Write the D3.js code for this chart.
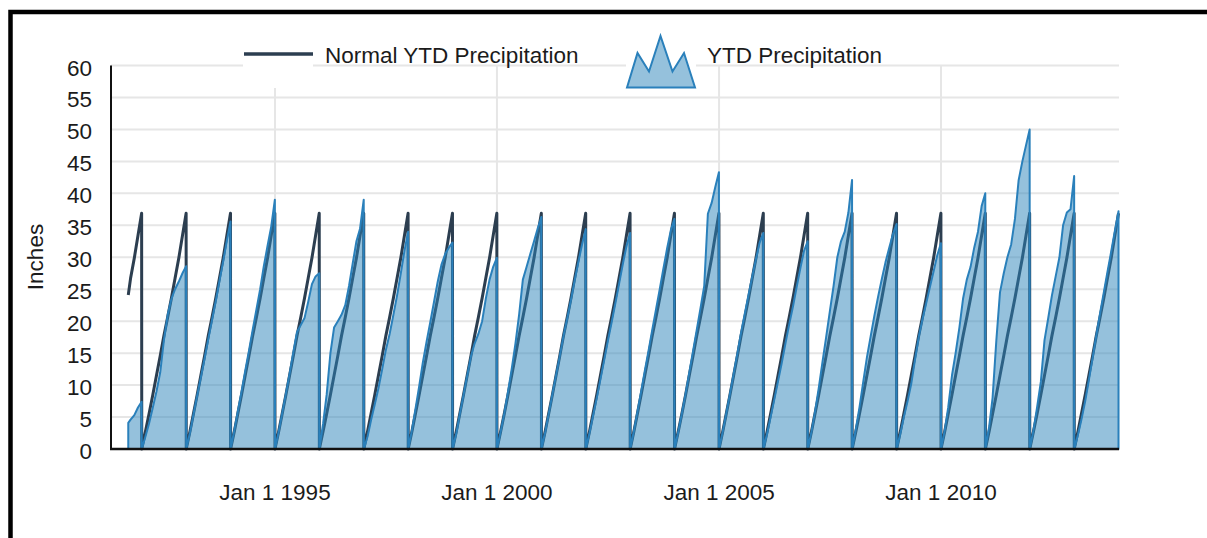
<!DOCTYPE html>
<html>
<head>
<meta charset="utf-8">
<script src="https://cdn.jsdelivr.net/npm/d3@7"></script>
<style>
  html, body { margin: 0; padding: 0; background: #fff; }
  svg { display: block; }
  text { font-family: "Liberation Sans", Arial, Helvetica, sans-serif; fill: #1b1b1b; }
</style>
</head>
<body>
<svg id="chart" width="1207" height="538"></svg>
<script>
// ---- data -------------------------------------------------------------
// Sample dates within each year (month starts, then year end)
const sampleDays = ["01-01", "02-01", "03-01", "04-01", "05-01", "06-01",
                    "07-01", "08-01", "09-01", "10-01", "11-01", "12-01", "12-31"];

// Normal year-to-date precipitation (inches) on those dates
const normalYTD = [0, 2.8, 5.5, 8.5, 11.5, 14.6, 17.7, 20.6, 23.6, 26.7, 29.9, 33.4, 36.9];

// Record begins part way through 1991
const firstDates  = ["1991-09-12", "1991-10-01", "1991-11-01", "1991-12-01", "1991-12-31"];
const firstNormal = [24.1, 26.7, 29.9, 33.4, 36.9];
const firstYTD    = [4.1, 4.6, 5.3, 6.5, 7.4];

// Full calendar years
const years = [1992, 1993, 1994, 1995, 1996, 1997, 1998, 1999, 2000, 2001, 2002,
               2003, 2004, 2005, 2006, 2007, 2008, 2009, 2010, 2011, 2012, 2013];

// Observed year-to-date precipitation (inches), one row per year
const ytdByYear = [
  [0, 2.0, 4.0, 6.5, 9.0, 12.0, 17.0, 21.0, 23.5, 25.0, 26.2, 27.5, 28.6],   // 1992
  [0, 2.6, 5.4, 8.4, 11.2, 14.2, 17.2, 20.2, 23.2, 26.3, 29.4, 32.6, 35.6],  // 1993
  [0, 3.0, 5.9, 9.0, 12.2, 15.4, 18.6, 21.8, 25.0, 28.6, 31.8, 34.8, 39.0],  // 1994
  [0, 2.8, 5.6, 8.7, 11.8, 15.2, 18.3, 19.4, 20.5, 23.0, 25.8, 27.0, 27.5],  // 1995
  [0, 4.0, 8.5, 15.0, 19.0, 20.0, 21.0, 22.5, 25.5, 29.0, 32.5, 34.5, 39.0], // 1996
  [0, 2.0, 4.5, 7.0, 9.5, 12.5, 15.5, 18.0, 21.0, 24.0, 27.5, 31.0, 34.0],   // 1997
  [0, 3.0, 6.2, 9.8, 13.5, 16.8, 19.8, 23.0, 26.2, 28.8, 30.5, 31.5, 32.3],  // 1998
  [0, 2.5, 5.5, 8.5, 11.5, 14.5, 16.5, 18.0, 20.0, 23.5, 26.5, 28.5, 29.9],  // 1999
  [0, 2.8, 5.6, 9.0, 12.5, 16.5, 21.0, 26.5, 28.5, 30.5, 32.5, 34.5, 36.3],  // 2000
  [0, 2.7, 5.5, 8.6, 11.6, 14.6, 17.7, 20.5, 23.4, 26.4, 29.3, 32.0, 34.4],  // 2001
  [0, 2.6, 5.2, 8.0, 10.9, 13.9, 16.9, 19.8, 22.8, 25.8, 28.9, 31.7, 33.8],  // 2002
  [0, 2.9, 5.8, 9.0, 12.2, 15.4, 18.6, 21.8, 25.0, 28.2, 31.4, 34.2, 36.0],  // 2003
  [0, 2.8, 5.6, 8.7, 12.0, 15.3, 18.6, 22.0, 25.5, 36.8, 38.5, 41.0, 43.3],  // 2004
  [0, 2.8, 5.6, 8.7, 11.8, 15.0, 18.2, 21.2, 24.2, 27.0, 29.8, 32.3, 33.8],  // 2005
  [0, 2.5, 5.0, 7.8, 10.6, 13.5, 16.5, 19.5, 22.3, 25.3, 28.3, 31.0, 32.5],  // 2006
  [0, 2.8, 5.8, 9.5, 13.5, 17.5, 21.5, 25.5, 30.0, 32.5, 34.0, 37.0, 42.1],  // 2007
  [0, 3.2, 6.5, 10.5, 14.3, 17.6, 20.8, 23.8, 26.6, 29.2, 31.5, 33.6, 35.2], // 2008
  [0, 2.5, 5.0, 7.5, 10.2, 14.0, 17.5, 20.3, 22.8, 25.3, 27.8, 30.3, 32.2],  // 2009
  [0, 3.0, 6.5, 11.5, 15.0, 19.0, 23.5, 26.5, 28.5, 31.5, 34.0, 38.0, 40.0], // 2010
  [0, 3.5, 8.0, 17.0, 24.5, 27.5, 30.0, 32.0, 36.0, 42.0, 45.0, 47.5, 50.0], // 2011
  [0, 3.0, 6.5, 10.5, 17.0, 20.5, 24.0, 27.0, 30.0, 35.0, 37.0, 37.5, 42.7], // 2012
  [0, 2.3, 4.6, 7.5, 10.8, 14.3, 17.8, 21.2, 24.5, 27.7, 30.9, 34.1, 37.2]   // 2013
];

const yTickValues = [0, 5, 10, 15, 20, 25, 30, 35, 40, 45, 50, 55, 60];
const legendLabels = ["Normal YTD Precipitation", "YTD Precipitation"];
const yTitle = "Inches";

// ---- assemble daily records -------------------------------------------
const parse = d3.timeParse("%Y-%m-%d");
const records = [];
firstDates.forEach((d, i) => records.push({ date: parse(d), normal: firstNormal[i], ytd: firstYTD[i] }));
years.forEach((yr, r) => {
  sampleDays.forEach((md, i) => {
    records.push({ date: parse(`${yr}-${md}`), normal: normalYTD[i], ytd: ytdByYear[r][i] });
  });
});

// ---- layout -------------------------------------------------------------
const svg = d3.select("#chart");
const plot = { left: 111, right: 1119, top: 65.5, bottom: 449 };

const x = d3.scaleTime()
  .domain([new Date(1991, 3, 23), new Date(2014, 0, 4)])
  .range([plot.left, plot.right]);
const y = d3.scaleLinear().domain([0, 60]).range([plot.bottom, plot.top]);

const FONT = 22.5;

// frame
svg.append("path")
  .attr("d", `M10.5,538 L10.5,12 L1207,12`)
  .attr("fill", "none").attr("stroke", "#000").attr("stroke-width", 4.5);

// grid
const grid = svg.append("g");
grid.selectAll("line.h").data(yTickValues.filter(v => v > 0)).join("line")
  .attr("x1", plot.left).attr("x2", plot.right)
  .attr("y1", d => y(d)).attr("y2", d => y(d))
  .attr("stroke", "#e6e6e6").attr("stroke-width", 2);
const xTicks = x.ticks(d3.timeYear.every(5));
grid.selectAll("line.v").data(xTicks).join("line")
  .attr("x1", d => x(d)).attr("x2", d => x(d))
  .attr("y1", y(60)).attr("y2", y(0))
  .attr("stroke", "#e6e6e6").attr("stroke-width", 2);

// normal line
const normalLine = d3.line().x(d => x(d.date)).y(d => y(d.normal));
svg.append("path").datum(records)
  .attr("d", normalLine)
  .attr("fill", "none").attr("stroke", "#2c3e50").attr("stroke-width", 3)
  .attr("stroke-linejoin", "round");

// observed area
const ytdArea = d3.area().x(d => x(d.date)).y0(y(0)).y1(d => y(d.ytd));
svg.append("path").datum(records)
  .attr("d", ytdArea)
  .attr("fill", "#2b83ba").attr("fill-opacity", 0.5)
  .attr("stroke", "#2a80bb").attr("stroke-width", 2)
  .attr("stroke-linejoin", "round");

// axes lines
svg.append("line")
  .attr("x1", plot.left).attr("x2", plot.left)
  .attr("y1", plot.top).attr("y2", plot.bottom + 1)
  .attr("stroke", "#111").attr("stroke-width", 2);
svg.append("line")
  .attr("x1", plot.left - 1).attr("x2", plot.right)
  .attr("y1", plot.bottom).attr("y2", plot.bottom)
  .attr("stroke", "#111").attr("stroke-width", 2.5);

// y tick labels
svg.append("g").selectAll("text").data(yTickValues).join("text")
  .attr("x", 92).attr("y", d => y(d) + 10)
  .attr("text-anchor", "end").style("font-size", FONT + "px")
  .text(d => d);

// x tick labels
const fmt = d3.timeFormat("%b %-d %Y");
svg.append("g").selectAll("text").data(xTicks).join("text")
  .attr("x", d => x(d)).attr("y", 500)
  .attr("text-anchor", "middle").style("font-size", FONT + "px")
  .text(d => fmt(d));

// y title
svg.append("text")
  .attr("transform", "translate(43,257) rotate(-90)")
  .attr("text-anchor", "middle").style("font-size", FONT + "px")
  .text(yTitle);

// legend
const lg = svg.append("g");
lg.append("rect").attr("x", 243).attr("y", 30).attr("width", 70).attr("height", 58).attr("fill", "#fff");
lg.append("line").attr("x1", 244).attr("x2", 313).attr("y1", 54).attr("y2", 54)
  .attr("stroke", "#2c3e50").attr("stroke-width", 3.5);
lg.append("text").attr("x", 325).attr("y", 63).style("font-size", FONT + "px").text(legendLabels[0]);

lg.append("rect").attr("x", 626).attr("y", 30).attr("width", 70).attr("height", 58).attr("fill", "#fff");
const peaks = [[627, 87.5], [637.5, 53], [649, 71.5], [660.5, 36], [672.5, 71.5], [684, 53], [695, 87.5]];
lg.append("path").attr("d", d3.line()(peaks) + "Z")
  .attr("fill", "#2b83ba").attr("fill-opacity", 0.5)
  .attr("stroke", "#2a80bb").attr("stroke-width", 2).attr("stroke-linejoin", "miter");
lg.append("text").attr("x", 707).attr("y", 63).style("font-size", FONT + "px").text(legendLabels[1]);
</script>
</body>
</html>
